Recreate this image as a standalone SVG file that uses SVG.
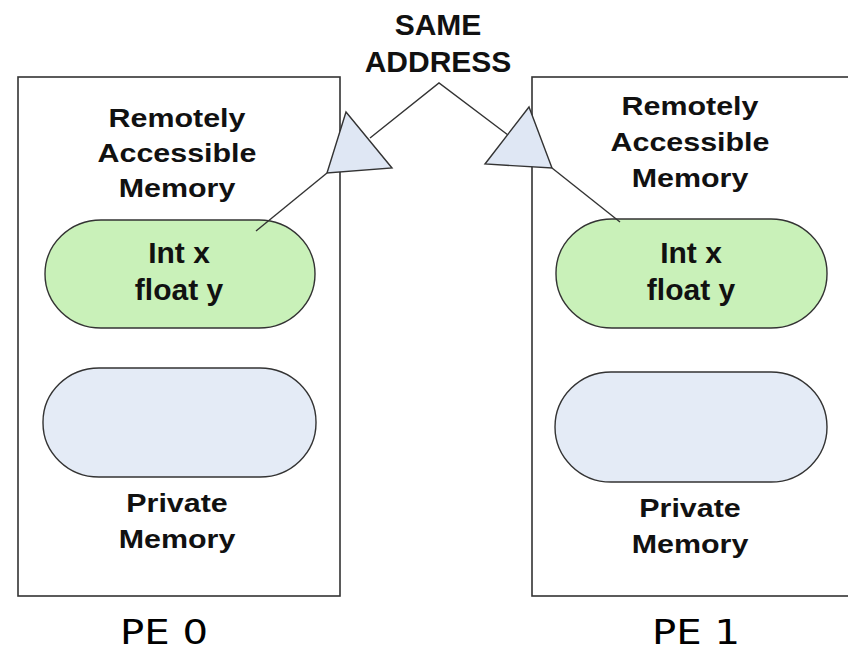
<svg xmlns="http://www.w3.org/2000/svg" width="848" height="652" viewBox="0 0 848 652">
<style>
.box{fill:#fff;stroke:#333;stroke-width:1.6}
.green{fill:#c9f1b9;stroke:#333;stroke-width:1.4}
.blue{fill:#e4ebf6;stroke:#333;stroke-width:1.4}
.tri{fill:#dfe7f4;stroke:#333;stroke-width:1.4;stroke-linejoin:miter}
.ln{fill:none;stroke:#333;stroke-width:1.4}
.lbl{font-family:"Liberation Sans",Arial,sans-serif;font-weight:bold;font-size:26px;fill:#111;text-anchor:middle}
.big{font-family:"Liberation Sans",Arial,sans-serif;font-weight:bold;font-size:30px;fill:#111;text-anchor:middle}
.pe{font-family:"DejaVu Sans","Noto Sans",sans-serif;font-size:33px;fill:#000}
</style>
<rect width="848" height="652" fill="#fff"/>
<g id="pe0">
  <rect class="box" x="18" y="77" width="322" height="519"/>
  <g transform="translate(177,0) scale(1.17,1)">
    <text class="lbl" x="0" y="127">Remotely</text>
    <text class="lbl" x="0" y="162">Accessible</text>
    <text class="lbl" x="0" y="197">Memory</text>
    <text class="lbl" x="0" y="512">Private</text>
    <text class="lbl" x="0" y="548">Memory</text>
  </g>
  <text class="pe" x="120" y="644" textLength="88" lengthAdjust="spacingAndGlyphs">PE 0</text>
</g>
<g id="pe0-shared">
  <rect class="green" x="45" y="220" width="270" height="108" rx="56" ry="54"/>
  <text class="big" x="179" y="263">Int x</text>
  <text class="big" x="179" y="300">float y</text>
</g>
<g id="pe0-private">
  <rect class="blue" x="43" y="368" width="273" height="109" rx="56" ry="54"/>
</g>
<g id="pe1">
  <rect class="box" x="532" y="77" width="330" height="519"/>
  <g transform="translate(690,0) scale(1.17,1)">
    <text class="lbl" x="0" y="115">Remotely</text>
    <text class="lbl" x="0" y="151">Accessible</text>
    <text class="lbl" x="0" y="187">Memory</text>
    <text class="lbl" x="0" y="517">Private</text>
    <text class="lbl" x="0" y="553">Memory</text>
  </g>
  <text class="pe" x="652" y="644" textLength="88" lengthAdjust="spacingAndGlyphs">PE 1</text>
</g>
<g id="pe1-shared">
  <rect class="green" x="556" y="219" width="271" height="109" rx="56" ry="54"/>
  <text class="big" x="691" y="263">Int x</text>
  <text class="big" x="691" y="300">float y</text>
</g>
<g id="pe1-private">
  <rect class="blue" x="555" y="372" width="272" height="110" rx="56" ry="55"/>
</g>
<g id="same-address">
  <text class="big" x="438" y="35">SAME</text>
  <text class="big" x="438" y="72">ADDRESS</text>
</g>
<g id="connectors">
  <polyline class="ln" points="370,138 439,83 508,135"/>
  <line class="ln" x1="327" y1="173" x2="256" y2="231"/>
  <line class="ln" x1="552" y1="168" x2="620" y2="222"/>
  <polygon class="tri" points="346,112 327,173 392,168"/>
  <polygon class="tri" points="529,107 485,164 552,168"/>
</g>
</svg>
